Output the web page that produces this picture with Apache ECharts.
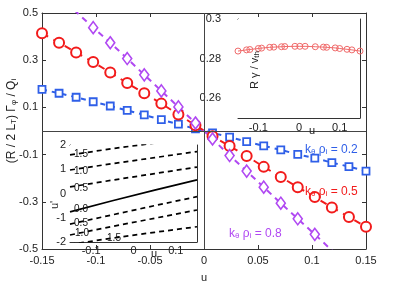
<!DOCTYPE html>
<html><head><meta charset="utf-8">
<script src="https://cdn.jsdelivr.net/npm/echarts@6/dist/echarts.min.js"></script>
<style>html,body{margin:0;padding:0;background:#fff}#c{width:409px;height:288px}</style>
</head><body><div id="c"></div>
<script>
// ---------- data ----------
const uMain = [-0.15,-0.1342,-0.1184,-0.1026,-0.0868,-0.0711,-0.0553,-0.0395,-0.0237,-0.0079,
               0.0079,0.0237,0.0395,0.0553,0.0711,0.0868,0.1026,0.1184,0.1342,0.15];
const blueVals = [0.176,0.160,0.143,0.124,0.106,0.087,0.068,0.048,0.029,0.009,
                  -0.008,-0.026,-0.045,-0.063,-0.080,-0.099,-0.115,-0.134,-0.151,-0.170];
const redVals = [0.414,0.374,0.333,0.292,0.248,0.203,0.160,0.116,0.070,0.024,
                 -0.022,-0.064,-0.106,-0.152,-0.195,-0.238,-0.280,-0.324,-0.364,-0.406];
const purpleVals = [0.640,0.573,0.505,0.438,0.374,0.307,0.238,0.170,0.102,0.034,
                    -0.034,-0.104,-0.170,-0.238,-0.306,-0.372,-0.438,-0.506,-0.573,-0.640];
const seriesNames = ['k\u03b8 \u03c1i = 0.2','k\u03b8 \u03c1i = 0.5','k\u03b8 \u03c1i = 0.8'];
const xTicksMain = [-0.15,-0.1,-0.05,0,0.05,0.1,0.15];
const yTicksMain = [-0.5,-0.3,-0.1,0.1,0.3,0.5];

const insetU = [-0.15,-0.129,-0.121,-0.1,-0.092,-0.072,-0.062,-0.043,-0.035,-0.01,
                0.002,0.015,0.04,0.06,0.068,0.089,0.1,0.118,0.13,0.15];
const insetGamma = [0.2838,0.2844,0.2846,0.2851,0.2853,0.2857,0.2858,0.2860,0.2861,0.2862,
                    0.2862,0.2862,0.2860,0.2858,0.2857,0.2854,0.2851,0.2847,0.2844,0.2838];
const insetXTicks = [-0.1,0,0.1];
const insetYTicks = [0.26,0.28,0.3];

const contourU = [-0.15,-0.05,0.05,0.15];
const contourLevels = ['1.5','1.0','0.5','0.0','-0.5','-1.0','-1.5'];
const contourVals = [
  [1.59,1.85,2.08,2.30],
  [0.97,1.23,1.48,1.73],
  [0.27,0.55,0.82,1.09],
  [-0.76,-0.30,0.14,0.56],
  [-1.26,-0.88,-0.50,-0.13],
  [-1.71,-1.36,-1.02,-0.68],
  [-2.10,-1.84,-1.60,-1.37]
];
const contourXTicks = [-0.1,0,0.1];
const contourYTicks = [-2,-1,0,1,2];

// ---------- styling ----------
const FONT = 'Liberation Sans, Arial, sans-serif';
const AX = '#333';
const BLUE = '#2f5fe8', RED = '#f21b1b', PURPLE = '#b048f2', IRED = '#f06a6a';
const zip = (a,b) => a.map((v,i)=>[v,b[i]]);
const lbl = {fontFamily: FONT, fontSize: 11, color: '#222'};

function boxAxes(gi, xMin, xMax, yMin, yMax, xT, yT, opts) {
  opts = opts || {};
  const xs = [], ys = [];
  ['bottom','top'].forEach((pos,k)=>{
    xs.push({type:'value', gridIndex:gi, position:pos, min:xMin, max:xMax,
      axisLine:{show:true, onZero:false, lineStyle:{color:AX}},
      axisTick:{show:true, inside:true, length:4, lineStyle:{color:AX}, customValues:xT},
      axisLabel:{show:k===0, margin:opts.xm||5, customValues:xT, ...lbl,
        formatter: v => String(+v.toFixed(3))},
      splitLine:{show:false},
      name: k===0 ? opts.xName : '', nameLocation:'middle', nameGap: opts.xNameGap||18,
      nameTextStyle:{...lbl, fontSize:11}});
  });
  ['left','right'].forEach((pos,k)=>{
    ys.push({type:'value', gridIndex:gi, position:pos, min:yMin, max:yMax,
      axisLine:{show:true, onZero:false, lineStyle:{color:AX}},
      axisTick:{show:true, inside:true, length:4, lineStyle:{color:AX}, customValues:yT},
      axisLabel:{show:k===0, margin:opts.ym||5, customValues:yT, ...lbl,
        formatter: v => String(+v.toFixed(3))},
      splitLine:{show:false}});
  });
  return {xs, ys};
}

const main = boxAxes(0,-0.15,0.15,-0.5,0.5,xTicksMain,yTicksMain,{xName:'u', xNameGap:23, xm:6, ym:4});
const ins1 = boxAxes(1,-0.15,0.15,0.25,0.3,insetXTicks,insetYTicks,{xm:4, ym:17});
const ins2 = boxAxes(2,-0.15,0.15,-2,2,contourXTicks,contourYTicks,{xm:3, ym:4});

const xAxes = [...main.xs, ...ins1.xs, ...ins2.xs];
const yAxes = [...main.ys, ...ins1.ys, ...ins2.ys];

function mainSeries(name, vals, color, symbol, size, dash, bw) {
  return {type:'line', name, xAxisIndex:0, yAxisIndex:0, data: zip(uMain, vals),
    clip:true, symbol, symbolSize:size, showAllSymbol:true,
    itemStyle:{color:'#fff', borderColor:color, borderWidth:bw},
    lineStyle:{color, width:2, type:dash}, z:3};
}

const series = [
  mainSeries(seriesNames[0], blueVals, BLUE, 'rect', 7, [5,5], 1.8),
  mainSeries(seriesNames[1], redVals, RED, 'circle', 10, [7,6], 2),
  mainSeries(seriesNames[2], purpleVals, PURPLE, 'diamond', [9,12], [6,5], 1.6),
  {type:'line', xAxisIndex:0, yAxisIndex:0, data:[], silent:true,
   markLine:{silent:true, symbol:'none', label:{show:false},
     lineStyle:{color:'#444', width:1, type:'solid'},
     data:[{xAxis:0},{yAxis:0}]}, z:1},
  {type:'line', xAxisIndex:2, yAxisIndex:2, data: zip(insetU, insetGamma),
   symbol:'circle', symbolSize:6, showAllSymbol:true,
   itemStyle:{color:'rgba(255,255,255,0)', borderColor:IRED, borderWidth:1},
   lineStyle:{color:IRED, width:1}, z:5}
];
contourVals.forEach((vals,i)=>{
  series.push({type:'line', xAxisIndex:4, yAxisIndex:4, data: zip(contourU, vals),
    symbol:'none', clip:true, smooth:false,
    lineStyle:{color:'#000', width:1.7, type: contourLevels[i]==='0.0' ? 'solid' : [5,4]}, z:5});
});

const sub = {fontFamily:FONT, fontSize:8, verticalAlign:'bottom', lineHeight:9};
function kLabel(val, color, x, y) {
  return {type:'text', x, y, style:{text:'k{s|\u03b8} \u03c1{s|i} = ' + val, fill:color,
    font:'12px '+FONT, verticalAlign:'middle', rich:{s:{...sub, fill:color}}}, z:10};
}

const option = {
  animation:false,
  backgroundColor:'#fff',
  grid:[
    {left:42, right:43, top:13, bottom:29, show:false},
    {left:238, top:19, width:122, height:99, show:true, backgroundColor:'#fff', borderWidth:0, z:4},
    {left:70, top:145, width:127, height:97, show:true, backgroundColor:'#fff', borderWidth:0, z:4}
  ],
  xAxis: xAxes,
  yAxis: yAxes,
  series,
  graphic:[
    {type:'text', x:12, y:121, rotation:Math.PI/2,
     style:{text:'(R / 2 L{s|T}) \u0393{s|\u03c6} / Q{s|i}', fill:'#222', font:'12px '+FONT,
       align:'center', verticalAlign:'middle', rich:{s:{...sub, fill:'#222'}}}, z:10},
    {type:'text', x:255, y:70, rotation:Math.PI/2,
     style:{text:'R \u03b3 / v{s|th}', fill:'#222', font:'11px '+FONT,
       align:'center', verticalAlign:'middle', rich:{s:{...sub, fill:'#222'}}}, z:10},
    {type:'text', x:312, y:131, style:{text:'u', fill:'#222', font:'11px '+FONT, align:'center', verticalAlign:'middle'}, z:10},
    {type:'text', x:55, y:205, rotation:Math.PI/2,
     style:{text:"u'", fill:'#222', font:'11px '+FONT, align:'center', verticalAlign:'middle'}, z:10},
    {type:'text', x:154, y:254, style:{text:'u', fill:'#222', font:'11px '+FONT, align:'center', verticalAlign:'middle'}, z:10},
    kLabel('0.2', BLUE, 305, 150),
    kLabel('0.5', RED, 305, 192),
    kLabel('0.8', PURPLE, 229, 234),
    ...[['1.5',81,154],['1.0',81,171],['0.5',81,188],['0.0',81,209],['0.5',81,223],['1.0',82,233],['1.5',114,238]]
      .map(([t,x,y])=>({type:'text', x, y, style:{text:t, fill:'#111', font:'10px '+FONT, align:'center', verticalAlign:'middle'}, z:10}))
  ]
};
echarts.init(document.getElementById('c'), null, {renderer:'canvas'}).setOption(option);
</script></body></html>
